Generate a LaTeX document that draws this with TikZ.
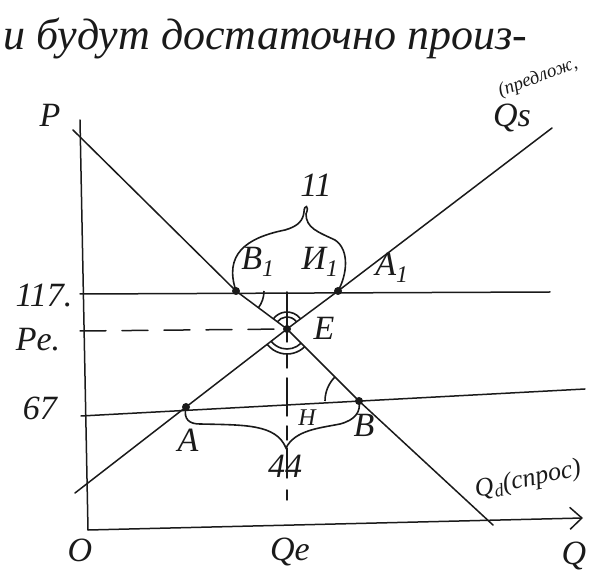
\documentclass[tikz,border=0pt]{standalone}
\usepackage{fontspec}
\setmainfont{Liberation Serif}
\usepackage{xcolor}
\usepackage{tikz}
\usetikzlibrary{arrows.meta,positioning,calc}
\definecolor{InkDark}{HTML}{1A1A1A}
\newcommand{\lbl}[1]{\fontsize{#1}{#1}\selectfont\itshape}

\begin{document}
\begin{tikzpicture}[x=1pt,y=-1pt, every node/.style={text=InkDark,inner sep=1pt,font=\lbl{34}}, ln/.style={InkDark,line width=1.5pt,line cap=round,line join=round}, guide/.style={ln,dash pattern=on 26pt off 16pt}, dot/.style={circle,fill=InkDark,inner sep=0pt,minimum size=8pt}, pen/.style={InkDark,line width=1.6pt}, ax/.style={ln,-{Straight Barb[length=12pt,width=22pt,line width=1.5pt]}}]
\useasboundingbox (0,0) rectangle (590,585);
% heading line of the page
\node[anchor=base west,font=\lbl{44}] (head) at (2,50) {и будут достаточно произ-};
% axes
\coordinate (ytop) at (80,120);
\coordinate (orig) at (88,530);
\coordinate (xend) at (583,518);
\draw[ln] (ytop) -- (orig);
\draw[ax] (orig) -- (xend);
\node (pax) at (50,115) {P};
\node (oax) at (80,550) {O};
\node (qax) at (574,556) {Q};
% points
\node[dot] (B1) at (236,291) {};
\node[dot] (A1) at (338,291) {};
\node[dot] (E) at (287,329) {};
\node[dot] (A) at (186,407) {};
\node[dot] (B) at (359,401) {};
% demand and supply
\coordinate (dtop) at (73,130);
\coordinate (dend) at (493,525);
\coordinate (sbeg) at (75,493);
\coordinate (send) at (552,128);
\draw[ln] (dtop) -- (B1.center) -- (E.center) -- (B.center) -- (dend);
\draw[ln] (sbeg) -- (A.center) -- (E.center) -- (A1.center) -- (send);
% price levels
\node (p117) at (44,296) {117.};
\node (pe) at (38,340) {Pe.};
\node (p67) at (40,408) {67};
\coordinate (l117) at (80,294);
\coordinate (r117) at (550,292);
\coordinate (l67) at (81,416);
\coordinate (r67) at (585,389);
\coordinate (lpe) at (80,331);
\draw[ln] (l117) -- (r117);
\draw[ln] (l67) -- (r67);
\draw[guide] (lpe) -- (E.center);
% equilibrium quantity
\coordinate (qtop) at (287,292);
\coordinate (qbot) at (287,536);
\draw[ln,dash pattern=on 50pt off 12pt on 14pt off 10pt on 38pt off 10pt on 14pt off 8pt on 30pt off 12pt on 10pt] (qtop) -- (qbot);
\node (qe) at (290,552) {Qe};
% angle marks
\draw[pen] ($(E)+(-37:12)$) arc[start angle=-37,end angle=-143,radius=12];
\draw[pen] ($(E)+(-37:17)$) arc[start angle=-37,end angle=-143,radius=17];
\draw[pen] ($(E)+(45:20)$) arc[start angle=45,end angle=142,radius=20];
\draw[pen] ($(E)+(45:25)$) arc[start angle=45,end angle=142,radius=25];
\draw[pen] ($(B1)+(0:28)$) arc[start angle=0,end angle=37,radius=28];
\draw[pen] ($(B)+(-180:34)$) arc[start angle=-180,end angle=-135,radius=34];
% braces
\coordinate (ttip) at (304,212);
\draw[pen] (B1.center) .. controls (224,255) and (245,238) .. (285,230) .. controls (299,226) and (303,220) .. (ttip) .. controls (304,204) and (310,205) .. (306,214) .. controls (306,228) and (318,232) .. (335,240) .. controls (350,250) and (347,275) .. (A1.center);
\coordinate (btip) at (286,448);
\draw[pen] (A.center) .. controls (183,420) and (190,424) .. (200,424) .. controls (245,425) and (276,424) .. (btip) .. controls (295,430) and (320,428) .. (340,424) .. controls (355,420) and (361,412) .. (B.center);
% labels
\node (lB1) at (258,262) {B\textsubscript{1}};
\node (lI1) at (320,262) {И\textsubscript{1}};
\node (lA1) at (392,268) {A\textsubscript{1}};
\node (lE) at (324,328) {E};
\node (lA) at (188,440) {A};
\node[font=\lbl{24}] (lN) at (307,418) {Н};
\node (lB) at (364,425) {B};
\node (l11) at (316,185) {11};
\node (l44) at (285,466) {44};
\node (lqs) at (512,118) {Qs};
\node[rotate=20,font=\lbl{19},inner sep=0pt] (lpred) at (538,78) {(предлож,};
\node[rotate=12,font=\lbl{26}] (lqd) at (528,480) {Q\textsubscript{d}(спрос)};
\end{tikzpicture}
\end{document}
